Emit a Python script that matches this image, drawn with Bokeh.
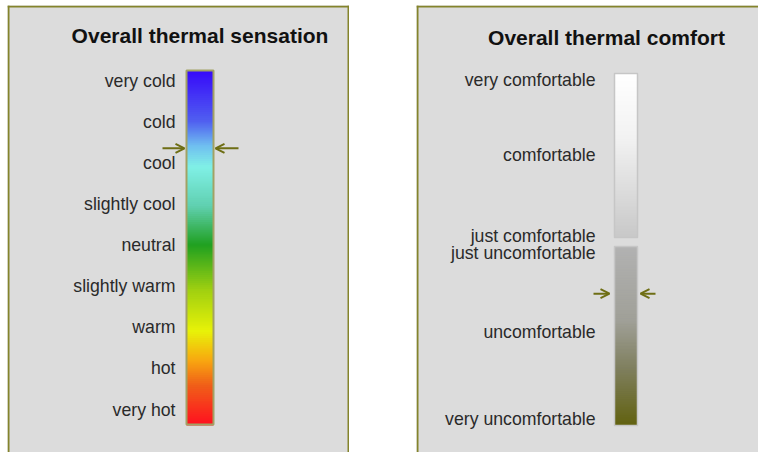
import numpy as np
from bokeh.plotting import figure
from bokeh.models import Range1d, Arrow, OpenHead, Spacer
from bokeh.layouts import row
from bokeh.embed import file_html
from bokeh.resources import INLINE
from bokeh.core.properties import value

# ---------------- data ----------------
sensation_title = "Overall thermal sensation"
sensation_labels = ["very cold", "cold", "cool", "slightly cool", "neutral",
                    "slightly warm", "warm", "hot", "very hot"]
sensation_values = [-4, -3, -2, -1, 0, 1, 2, 3, 4]
sensation_vote = -2.35
sensation_stop_values = [-4.25, -3.0, -2.4, -1.9, -0.95, 0.0, 1.1, 2.1, 2.8, 3.4, 4.37]
sensation_stop_colors = ["#3608fa", "#5060f0", "#70c0f0", "#80f0e6", "#60d0b0", "#20a020",
                         "#a0d010", "#e8f208", "#f8a810", "#f06018", "#ff1020"]

comfort_title = "Overall thermal comfort"
comfortable_labels = ["very comfortable", "comfortable", "just comfortable"]
comfortable_values = [4, 2, 0]
uncomfortable_labels = ["just uncomfortable", "uncomfortable", "very uncomfortable"]
uncomfortable_values = [0, -2, -4]
comfort_vote = -0.98
comfortable_stop_values = [4.15, 2.5, -0.05]
comfortable_stop_colors = ["#ffffff", "#f2f2f2", "#c8c8c8"]
uncomfortable_stop_values = [0.14, -1.62, -2.81, -4.12]
uncomfortable_stop_colors = ["#b2b2b2", "#a0a098", "#7e7e5c", "#626210"]

# ---------------- style / layout (screen px of the page) ----------------
TOP, BOTTOM = 5, 452
H = BOTTOM
X1, W1, GAP, W2 = 7, 342, 67, 342
PANEL_BG = "#dcdcdc"
PANEL_EDGE = "#84842c"
ARROW_COL = "#6e6e14"
LABEL_COL = "#2a2a2a"
FONT = "Liberation Sans"
LABEL_SIZE = "17.7px"
comfortable_nudge = [0, -3, 0]      # small screen-px label nudges (style)
uncomfortable_nudge = [0, -5, -2]


def hex2rgb(h):
    h = h.lstrip("#")
    return [int(h[i:i + 2], 16) for i in (0, 2, 4)]


def gradient(p, x0, x1, v_top, v_bot, stop_vals, stop_cols, n=180, **kw):
    edges = np.linspace(v_top, v_bot, n + 1)
    mids = (edges[:-1] + edges[1:]) / 2
    sv = np.array(stop_vals, dtype=float)
    rgb = np.array([hex2rgb(c) for c in stop_cols], dtype=float)
    order = np.argsort(sv)
    sv, rgb = sv[order], rgb[order]
    cols = []
    for m in mids:
        r, g, b = (int(round(np.interp(m, sv, rgb[:, k]))) for k in range(3))
        cols.append("#%02x%02x%02x" % (r, g, b))
    step = (v_bot - v_top) / n
    tops = edges[:-1].copy()
    bots = edges[1:] + 1.5 * step
    bots[-1] = v_bot
    p.quad(left=x0, right=x1, top=tops, bottom=bots, fill_color=cols,
           line_color=None, **kw)


def make_fig(width, y_range):
    p = figure(width=width, height=H, x_range=Range1d(0, width), y_range=y_range,
               output_backend="svg", toolbar_location=None, tools="",
               x_axis_location=None, y_axis_location=None,
               min_border=0, min_border_top=TOP,
               background_fill_color=PANEL_BG, border_fill_color="white",
               outline_line_color=None)
    p.grid.visible = False
    return p


# ---------------- left panel ----------------
def vL(py):
    return -4 + (py - 80) / 41.125


p1 = make_fig(W1, Range1d(start=vL(BOTTOM), end=vL(TOP)))
gradient(p1, 179, 206, vL(70), vL(424), sensation_stop_values, sensation_stop_colors)
p1.quad(left=179, right=206, top=vL(70), bottom=vL(424), fill_color=None,
        line_color="#a2a264", line_width=2)
p1.text(x=[168] * len(sensation_labels), y=sensation_values, text=sensation_labels,
        text_align="right", text_baseline="middle", text_font=value(FONT),
        text_font_size=LABEL_SIZE, text_color=LABEL_COL)
p1.text(x=[192.5], y=[vL(35)], text=[sensation_title], text_align="center",
        text_baseline="middle", text_font=value(FONT), text_font_style="bold",
        text_font_size="21px", text_color="#111111")
p1.add_layout(Arrow(end=OpenHead(size=9, line_color=ARROW_COL, line_width=2),
                    x_start=155, y_start=sensation_vote, x_end=177, y_end=sensation_vote,
                    line_color=ARROW_COL, line_width=2))
p1.add_layout(Arrow(end=OpenHead(size=9, line_color=ARROW_COL, line_width=2),
                    x_start=231, y_start=sensation_vote, x_end=208, y_end=sensation_vote,
                    line_color=ARROW_COL, line_width=2))
p1.segment(x0=[0, 1, W1 - 1], y0=[vL(6), vL(TOP), vL(TOP)],
           x1=[W1, 1, W1 - 1], y1=[vL(6), vL(BOTTOM), vL(BOTTOM)],
           line_color=PANEL_EDGE, line_width=2)


# ---------------- right panel ----------------
def vU(py):
    return 4 - (py - 79) / 39.0


def vD(py):
    return -(py - 252) / 42.0


p2 = make_fig(W2, Range1d(start=vU(BOTTOM), end=vU(TOP)))
p2.extra_y_ranges = {"lower": Range1d(start=vD(BOTTOM), end=vD(TOP))}

gradient(p2, 198, 221, vU(73), vU(237), comfortable_stop_values, comfortable_stop_colors)
p2.quad(left=198, right=221, top=vU(73), bottom=vU(237), fill_color=None,
        line_color="#c6c6c6", line_width=1.5)
gradient(p2, 198, 221, vD(246), vD(425), uncomfortable_stop_values,
         uncomfortable_stop_colors, y_range_name="lower")
p2.quad(left=198, right=221, top=vD(246), bottom=vD(425), fill_color=None,
        line_color="#c6c6c6", line_width=1.5, y_range_name="lower")

p2.text(x=[179] * len(comfortable_labels), y=comfortable_values, text=comfortable_labels,
        y_offset=comfortable_nudge,
        text_align="right", text_baseline="middle", text_font=value(FONT),
        text_font_size=LABEL_SIZE, text_color=LABEL_COL)
p2.text(x=[179] * len(uncomfortable_labels), y=uncomfortable_values,
        text=uncomfortable_labels, y_offset=uncomfortable_nudge,
        text_align="right", text_baseline="middle",
        text_font=value(FONT), text_font_size=LABEL_SIZE, text_color=LABEL_COL,
        y_range_name="lower")
p2.text(x=[190], y=[vU(37)], text=[comfort_title], text_align="center",
        text_baseline="middle", text_font=value(FONT), text_font_style="bold",
        text_font_size="21px", text_color="#111111")
p2.add_layout(Arrow(end=OpenHead(size=9, line_color=ARROW_COL, line_width=2),
                    x_start=177, y_start=comfort_vote, x_end=193, y_end=comfort_vote,
                    line_color=ARROW_COL, line_width=2, y_range_name="lower"))
p2.add_layout(Arrow(end=OpenHead(size=9, line_color=ARROW_COL, line_width=2),
                    x_start=239, y_start=comfort_vote, x_end=224, y_end=comfort_vote,
                    line_color=ARROW_COL, line_width=2, y_range_name="lower"))
p2.segment(x0=[0, 1], y0=[vU(6), vU(TOP)], x1=[W2, 1], y1=[vU(6), vU(BOTTOM)],
           line_color=PANEL_EDGE, line_width=2)

layout = row(Spacer(width=X1, height=H), p1, Spacer(width=GAP, height=H), p2)
open("out.html", "w").write(file_html(layout, INLINE))
